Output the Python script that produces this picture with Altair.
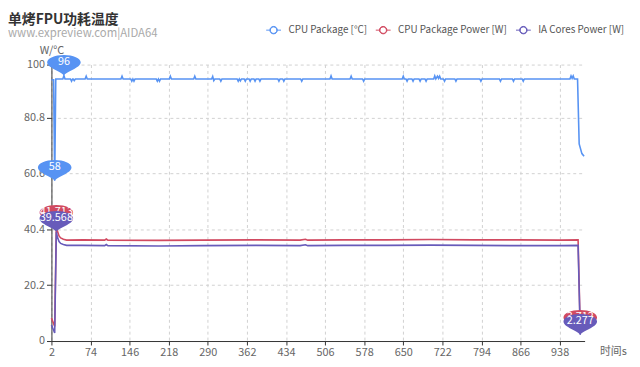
import altair as alt
import pandas as pd

FONT = "Noto Sans CJK SC"

chart_title = ["单烤FPU功耗温度"]
chart_subtitle = ["www.expreview.com|AIDA64"]

series_names = ["CPU Package [°C]", "CPU Package Power [W]", "IA Cores Power [W]"]
series_colors = ["#5793f3", "#d14a61", "#675bba"]

# (time s, value)
temp_points = [
    (2, 94.5), (6, 94.5), (8, 58.0), (10, 94.8), (23, 94.8), (25, 96.0), (27, 94.8),
    (37, 94.8), (39, 94.0), (41, 94.8), (42, 94.8), (44, 94.2), (46, 94.8),
    (64, 94.8), (66, 95.8), (68, 94.8), (130, 94.8), (132, 95.8), (134, 94.8),
    (148, 94.8), (150, 94.0), (152, 94.8), (154, 94.0), (156, 94.8),
    (195, 94.8), (197, 94.0), (199, 94.8), (201, 94.0), (203, 94.8),
    (219, 94.8), (221, 95.8), (223, 94.8), (264, 94.8), (266, 95.8), (268, 94.8),
    (297, 94.8), (299, 95.7), (301, 94.2), (303, 94.8), (312, 94.8), (314, 94.0), (316, 94.8),
    (344, 94.8), (346, 94.0), (348, 94.8), (350, 94.1), (352, 94.8),
    (357, 94.8), (359, 94.0), (361, 94.8), (366, 94.8), (368, 94.0), (370, 94.8),
    (375, 94.8), (377, 94.0), (379, 94.8), (384, 94.8), (386, 94.0), (388, 94.8),
    (419, 94.8), (421, 94.0), (423, 94.8), (428, 94.8), (430, 94.0), (432, 94.8),
    (461, 94.8), (463, 94.0), (465, 94.8), (515, 94.8), (517, 95.9), (519, 94.8),
    (552, 94.8), (554, 95.8), (556, 94.8), (575, 94.8), (577, 94.0), (579, 94.8),
    (648, 94.8), (650, 95.8), (652, 94.8), (655, 94.8), (657, 94.0), (659, 94.8),
    (666, 94.8), (668, 94.0), (670, 94.8), (679, 94.8), (681, 94.0), (683, 94.8),
    (690, 94.8), (692, 94.0), (694, 94.8), (706, 94.8), (708, 95.9), (710, 94.8),
    (713, 95.8), (715, 95.0), (717, 95.8), (719, 94.8), (724, 94.8), (726, 94.0), (728, 94.8),
    (745, 94.8), (747, 94.0), (749, 94.8), (791, 94.8), (793, 94.0), (795, 94.8),
    (827, 94.8), (829, 94.0), (831, 94.8), (851, 94.8), (853, 94.0), (855, 94.8),
    (869, 94.8), (871, 94.0), (873, 94.8), (957, 94.8), (959, 95.9), (961, 95.0),
    (963, 95.9), (965, 94.8), (971, 94.8), (974, 71.3), (979, 67.8), (983, 66.8),
]

pkg_points = [
    (2, 8.3), (8, 5.3), (11, 41.713), (13, 39.8), (16, 38.0), (19, 37.3), (24, 36.8),
    (30, 36.5), (60, 36.6), (100, 36.5), (103, 36.9), (106, 36.5), (200, 36.4),
    (280, 36.5), (380, 36.6), (460, 36.5), (470, 36.8), (474, 36.5), (540, 36.6),
    (620, 36.6), (700, 36.7), (780, 36.6), (860, 36.6), (940, 36.5), (972, 36.6),
    (976, 3.712),
]

ia_points = [
    (2, 5.8), (8, 2.9), (11, 39.568), (13, 37.6), (16, 36.0), (19, 35.3), (24, 34.9),
    (30, 34.6), (60, 34.6), (100, 34.5), (103, 34.9), (106, 34.5), (200, 34.4),
    (280, 34.5), (380, 34.6), (460, 34.5), (470, 34.8), (474, 34.5), (540, 34.6),
    (620, 34.6), (700, 34.7), (780, 34.6), (860, 34.5), (940, 34.5), (972, 34.6),
    (976, 2.277),
]

# marked max / min points: (series index, time, value, label)
pins = [
    (0, 25, 96.0, "96"), (0, 8, 58.0, "58"),
    (1, 11, 41.713, "41.713"), (1, 976, 3.712, "3.712"),
    (2, 11, 39.568, "39.568"), (2, 976, 2.277, "2.277"),
]

x_ticks = [2, 74, 146, 218, 290, 362, 434, 506, 578, 650, 722, 794, 866, 938]
y_ticks = [0, 20.2, 40.4, 60.6, 80.8, 100]

rows = []
for name, pts in zip(series_names, [temp_points, pkg_points, ia_points]):
    for t, v in pts:
        rows.append({"series": name, "t": t, "v": v})
df = pd.DataFrame(rows)

pin_df = pd.DataFrame(
    [{"series": series_names[s], "t": t, "v": v, "label": lab} for s, t, v, lab in pins]
)

# legend icon: short line, hollow ring, short line
LEGEND_PATH = (
    "M-1,0 L-0.5,0 M0.5,0 L1,0 "
    "M-0.5,0 C-0.5,-0.276 -0.276,-0.5 0,-0.5 C0.276,-0.5 0.5,-0.276 0.5,0 "
    "C0.5,0.276 0.276,0.5 0,0.5 C-0.276,0.5 -0.5,0.276 -0.5,0 Z "
    "M-0.44,0 C-0.44,0.243 -0.243,0.44 0,0.44 C0.243,0.44 0.44,0.243 0.44,0 "
    "C0.44,-0.243 0.243,-0.44 0,-0.44 C-0.243,-0.44 -0.44,-0.243 -0.44,0 Z"
)
PIN_PATH = ("M0,0 C-0.15,-0.25 -1,-0.45 -1,-0.79 C-1,-1.03 -0.55,-1.23 0,-1.23 "
            "C0.55,-1.23 1,-1.03 1,-0.79 C1,-0.45 0.15,-0.25 0,0 Z")

color_scale = alt.Scale(domain=series_names, range=series_colors)
x_scale = alt.Scale(domain=[2, 984], nice=False, zero=False)
y_scale = alt.Scale(domain=[0, 100], nice=False)

x_axis = alt.Axis(
    values=x_ticks, format="d", grid=True, gridDash=[3, 3], gridColor="#d0d0d0",
    domainColor="#333", tickColor="#333", tickSize=4, labelColor="#666",
    labelFontSize=11, labelFont=FONT, labelPadding=2, labelFlush=False,
    title="时间s", titleX=555, titleY=5, titleAlign="left", titleBaseline="top",
    titleFontWeight="normal", titleColor="#666", titleFontSize=11, titleFont=FONT,
)
y_axis = alt.Axis(
    values=y_ticks, format=".3~r", grid=True, gridDash=[3, 3], gridColor="#d0d0d0",
    domainColor="#333", tickColor="#333", tickSize=5, labelColor="#666",
    labelFontSize=11, labelFont=FONT, labelPadding=2,
    title="W/°C", titleAngle=0, titleX=0, titleY=-11, titleAlign="center",
    titleBaseline="alphabetic", titleFontWeight="normal", titleColor="#666",
    titleFontSize=11, titleFont=FONT,
)

lines = alt.Chart(df).mark_line(strokeWidth=1.6).encode(
    x=alt.X("t:Q", scale=x_scale, axis=x_axis),
    y=alt.Y("v:Q", scale=y_scale, axis=y_axis),
    color=alt.Color(
        "series:N", scale=color_scale, sort=series_names,
        legend=alt.Legend(
            orient="none", legendX=217, legendY=-43, direction="horizontal",
            title=None, symbolType=LEGEND_PATH, symbolSize=225, symbolStrokeWidth=1,
            labelFontSize=10, labelFont=FONT,
            labelColor="#555", columnPadding=6, labelOffset=7,
        ),
    ),
    detail="series:N",
)

layers = [lines]
for name in series_names:
    sub = pin_df[pin_df["series"] == name]
    base = alt.Chart(sub).encode(
        x=alt.X("t:Q", scale=x_scale), y=alt.Y("v:Q", scale=y_scale)
    )
    layers.append(
        base.mark_point(shape=PIN_PATH, size=1156, filled=True, opacity=1,
                        strokeWidth=0).encode(
            fill=alt.Fill("series:N", scale=color_scale, legend=None)
        )
    )
    layers.append(
        base.mark_text(color="white", fontSize=11, font=FONT, dy=-13.5,
                       baseline="middle", align="center").encode(text="label:N")
    )

title_layer = alt.Chart(pd.DataFrame({"text": chart_title})).mark_text(
    font=FONT, fontSize=14, fontWeight="bold", color="#333", align="left",
    baseline="alphabetic",
).encode(x=alt.value(-44), y=alt.value(-41.5), text="text:N")

subtitle_layer = alt.Chart(pd.DataFrame({"text": chart_subtitle})).mark_text(
    font=FONT, fontSize=11.5, color="#aaa", align="left", baseline="alphabetic",
).encode(x=alt.value(-44), y=alt.value(-28), text="text:N")

layers += [title_layer, subtitle_layer]

chart = alt.layer(*layers).properties(
    width=540, height=280,
    padding={"left": 44, "top": 55, "right": 48, "bottom": 24},
    autosize=alt.AutoSizeParams(type="none"),
).configure_view(stroke=None)

chart.save("out.html", embed_options={"renderer": "svg", "actions": False})
